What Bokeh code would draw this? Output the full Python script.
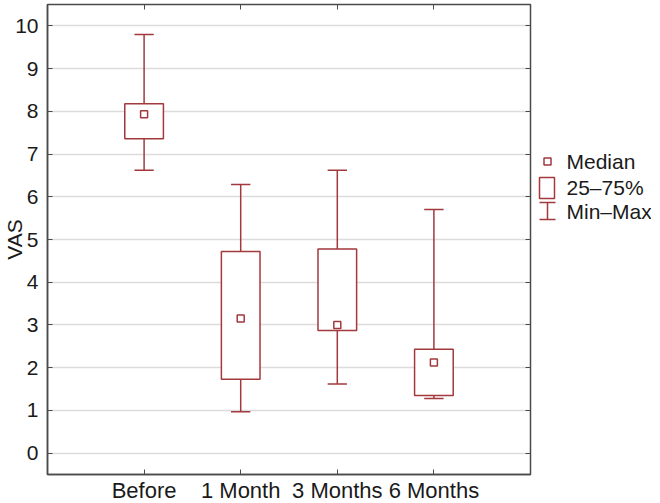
from bokeh.plotting import figure
from bokeh.layouts import row
from bokeh.models import Range1d, FixedTicker, LinearAxis, ColumnDataSource
from bokeh.core.properties import value
from bokeh.embed import file_html
from bokeh.resources import INLINE

categories = ["Before", "1 Month", "3 Months", "6 Months"]
vmin = [6.62, 0.97, 1.62, 1.28]
q1 = [7.36, 1.73, 2.87, 1.35]
median = [7.93, 3.15, 3.00, 2.12]
q3 = [8.18, 4.72, 4.78, 2.43]
vmax = [9.80, 6.29, 6.62, 5.70]
y_ticks = [0, 1, 2, 3, 4, 5, 6, 7, 8, 9, 10]
legend_labels = ["Median", "25–75%", "Min–Max"]

RED = "#A3393C"
FONT = "Liberation Sans"
FS = "21px"
xs = [i + 1 for i in range(len(categories))]
bw = 0.2
cw = 0.1

src = ColumnDataSource(dict(
    x=xs, left=[x - bw for x in xs], right=[x + bw for x in xs],
    cl=[x - cw for x in xs], cr=[x + cw for x in xs],
    vmin=vmin, q1=q1, med=median, q3=q3, vmax=vmax))

p = figure(frame_width=483, frame_height=470, output_backend="svg", toolbar_location=None,
           x_range=Range1d(0, 5), y_range=Range1d(-0.5, 10.5),
           min_border_left=0, min_border_top=4, min_border_bottom=20, min_border_right=3)
p.background_fill_color = "white"
p.outline_line_color = "#4a4a4a"
p.outline_line_width = 1.5

# whiskers
p.segment(x0="x", y0="vmin", x1="x", y1="q1", source=src, line_color=RED, line_width=1.5)
p.segment(x0="x", y0="q3", x1="x", y1="vmax", source=src, line_color=RED, line_width=1.5)
p.segment(x0="cl", y0="vmin", x1="cr", y1="vmin", source=src, line_color=RED, line_width=1.5)
p.segment(x0="cl", y0="vmax", x1="cr", y1="vmax", source=src, line_color=RED, line_width=1.5)
# boxes
p.quad(left="left", right="right", bottom="q1", top="q3", source=src,
       fill_color="white", line_color=RED, line_width=1.5)
# medians
p.scatter(x="x", y="med", source=src, marker="square", size=7,
          fill_color="white", line_color=RED, line_width=1.5)

# axes
p.xaxis.ticker = FixedTicker(ticks=xs)
p.xaxis.major_label_overrides = {x: c for x, c in zip(xs, categories)}
p.yaxis.ticker = FixedTicker(ticks=y_ticks)
p.yaxis.axis_label = "VAS"
for ax in [p.xaxis[0], p.yaxis[0]]:
    ax.axis_line_color = "#4a4a4a"
    ax.axis_line_width = 1.5
    ax.major_tick_in = 5
    ax.major_tick_out = 0
    ax.minor_tick_line_color = None
    ax.major_tick_line_color = "#4a4a4a"
    ax.major_label_text_font = FONT
    ax.major_label_text_font_size = FS
    ax.major_label_text_color = "#1a1a1a"
    ax.axis_label_text_font = FONT
    ax.axis_label_text_font_size = FS
    ax.axis_label_text_font_style = "normal"
    ax.axis_label_text_color = "#1a1a1a"
p.xaxis.major_label_text_font_size = "22px"
p.xaxis.major_label_standoff = 3
p.yaxis.major_label_standoff = 9
p.yaxis.axis_label_standoff = -14

top = LinearAxis(ticker=FixedTicker(ticks=xs), major_label_text_alpha=0, major_label_text_font_size="1px",
                 major_tick_in=5, major_tick_out=0, minor_tick_line_color=None, major_label_standoff=0,
                 axis_line_color="#4a4a4a", major_tick_line_color="#4a4a4a")
p.add_layout(top, "above")
right = LinearAxis(ticker=FixedTicker(ticks=y_ticks),
                   major_label_text_alpha=0, major_label_text_font_size="1px", major_label_standoff=0,
                   major_tick_in=5, major_tick_out=0, minor_tick_line_color=None,
                   axis_line_color="#4a4a4a", major_tick_line_color="#4a4a4a")
p.add_layout(right, "right")

p.xgrid.grid_line_color = None
p.ygrid.grid_line_color = "#dcdcdc"
p.ygrid.grid_line_width = 1.5

# ---- legend panel (pixel coordinates, y downwards) ----
LW, LH = 118, 240
lf = figure(frame_width=LW, frame_height=LH, output_backend="svg", toolbar_location=None,
            x_range=Range1d(0, LW), y_range=Range1d(LH, 0),
            x_axis_type=None, y_axis_type=None,
            min_border_left=0, min_border_right=0, min_border_top=0, min_border_bottom=0,
            outline_line_color=None)
lf.grid.visible = False
gx = 14
row_y = [157, 183, 207]
lf.scatter(x=[gx], y=[row_y[0]], marker="square", size=7,
           fill_color="white", line_color=RED, line_width=1.5)
lf.quad(left=[gx - 8], right=[gx + 7], top=[row_y[1] - 10], bottom=[row_y[1] + 11],
        fill_color="white", line_color=RED, line_width=1.5)
lf.segment(x0=[gx - 8, gx - 8, gx], y0=[row_y[2] - 9, row_y[2] + 8, row_y[2] - 9],
           x1=[gx + 8, gx + 8, gx], y1=[row_y[2] - 9, row_y[2] + 8, row_y[2] + 8],
           line_color=RED, line_width=1.5)
lf.text(x=[gx + 19] * 3, y=row_y, text=legend_labels, text_baseline="middle",
        text_font=value(FONT), text_font_size="21px", text_color="#1a1a1a")

layout = row(p, lf, spacing=0)
open("out.html", "w").write(file_html(layout, INLINE))
